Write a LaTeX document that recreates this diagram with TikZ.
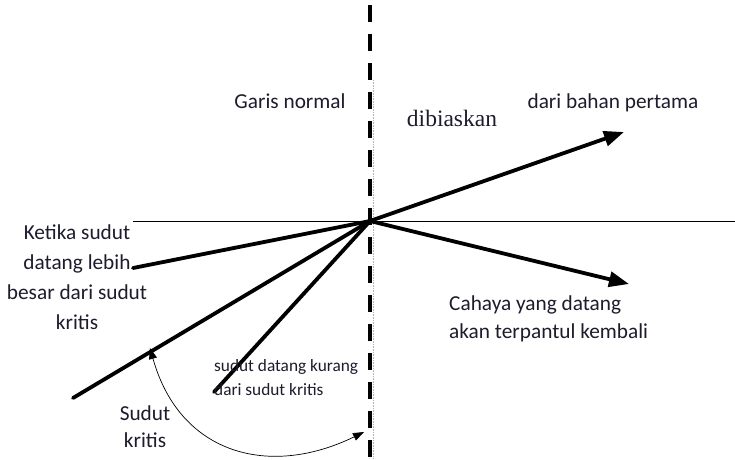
\documentclass[tikz,border=0pt]{standalone}
\usepackage{fontspec}
\setmainfont{Carlito}
\newfontfamily\serifface{Liberation Serif}
\usetikzlibrary{arrows.meta}
\definecolor{textc}{RGB}{28,28,45}
\tikzset{
  ray/.style={line width=3.8pt},
  rayarrow/.style={line width=3.8pt,-{Triangle[length=20pt,width=15pt]}},
  lbl/.style={text=textc,font=\fontsize{21.3}{30}\selectfont,inner sep=0pt},
  smalllbl/.style={text=textc,font=\fontsize{17.3}{24}\selectfont,inner sep=0pt,align=left},
  normalline/.style={line width=4.2pt,dash pattern=on 17pt off 12pt,dash phase=24pt},
}
\begin{document}
\begin{tikzpicture}[x=1pt,y=-1pt]
\useasboundingbox (0,0) rectangle (735,459);
% key points
\coordinate (O) at (370,221);
\coordinate (ntop) at (370,0);
\coordinate (nbot) at (370,459);
\coordinate (dtop) at (373.5,80);
\coordinate (dbot) at (373.5,459);
\coordinate (hl) at (133,221);
\coordinate (hr) at (735,221);
\coordinate (refr) at (624,132);
\coordinate (refl) at (629,284);
\coordinate (in1) at (133,268);
\coordinate (in2) at (73,398);
\coordinate (in3) at (214,392);
\coordinate (ca) at (150,348);
\coordinate (cb) at (364,432);
% normal and surface
\draw[gray!60,line width=0.6pt,densely dotted] (dtop) -- (dbot);
\draw[normalline] (ntop) -- (nbot);
\draw[line width=1pt] (hl) -- (hr);
% rays
\draw[ray,line cap=round] (in1) -- (O);
\draw[ray,line cap=round] (in2) -- (O);
\draw[ray,line cap=round] (in3) -- (O);
\draw[rayarrow] (O) -- (refr);
\draw[rayarrow] (O) -- (refl);
% critical angle arc
\draw[line width=0.7pt,{Triangle[length=11pt,width=8pt]}-{Triangle[length=11pt,width=8pt]}]
  (ca) .. controls (180,455) and (270,478) .. (cb);
% labels
\node[lbl] (garis) at (290,101) {Garis normal};
\node[lbl,font=\serifface\fontsize{23.5}{30}\selectfont] (dibias) at (452,118) {dibiaskan};
\node[lbl] (bahan) at (613,103) {dari bahan pertama};
\node[lbl,align=center] (ketika) at (77,277) {Ketika sudut\\datang lebih\\besar dari sudut\\kritis};
\node[lbl,align=left,anchor=west,font=\fontsize{21.3}{28}\selectfont] (cahaya) at (449,319) {Cahaya yang datang\\akan terpantul kembali};
\node[smalllbl,anchor=west] (kurang) at (214,378) {sudut datang kurang\\dari sudut kritis};
\node[lbl,align=center,font=\fontsize{21.3}{27}\selectfont] (kritis) at (145,427) {Sudut\\kritis};
\end{tikzpicture}
\end{document}
